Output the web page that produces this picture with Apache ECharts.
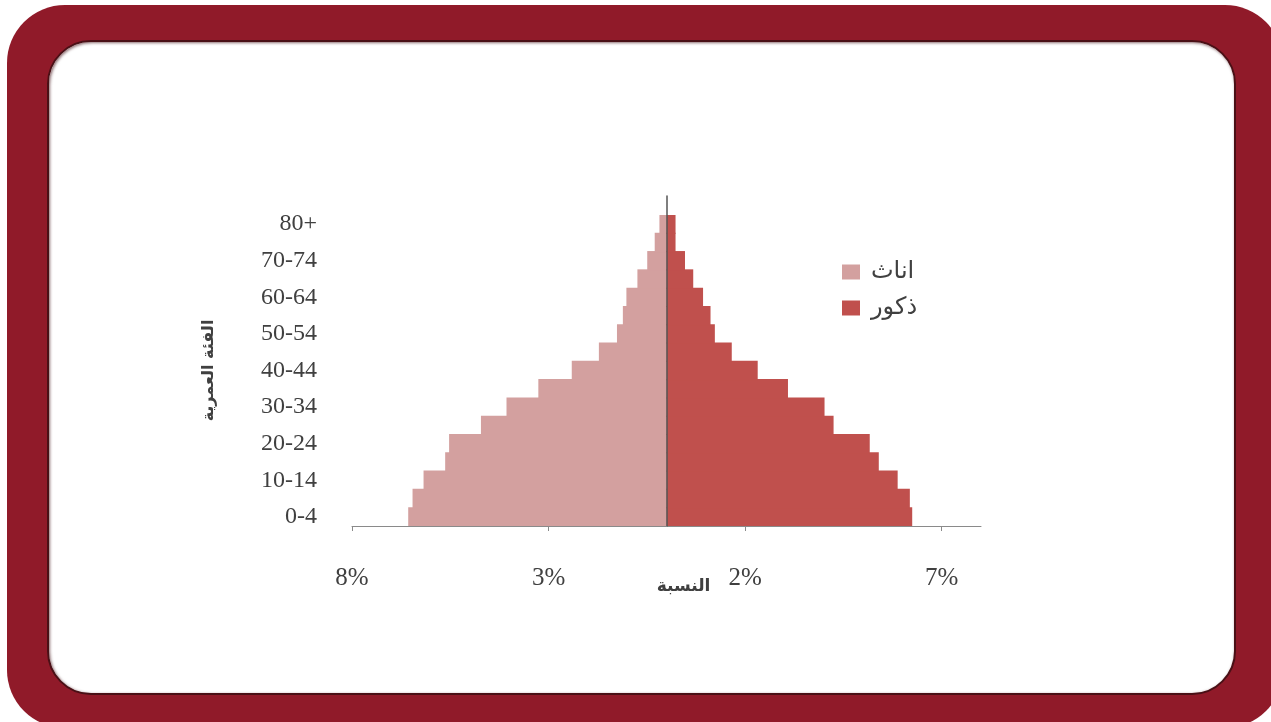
<!DOCTYPE html>
<html>
<head>
<meta charset="utf-8">
<script src="https://cdn.jsdelivr.net/npm/echarts@6/dist/echarts.min.js"></script>
<style>
    html, body { margin: 0; padding: 0; width: 1271px; height: 722px; overflow: hidden; background: #fff; }
    .frame {
        position: absolute; left: 7px; top: 5px; width: 1276px; height: 723px;
        background: #901a29; border-radius: 58px;
    }
    .panel {
        position: absolute; left: 47px; top: 40px; width: 1189px; height: 655px;
        background: #fff; border-radius: 44px; box-sizing: border-box;
        border: 2px solid #4a1016; box-shadow: inset 1px 1px 3px rgba(60, 10, 15, 0.6);
    }
    #main { position: absolute; left: 0; top: 0; width: 1271px; height: 722px; }
</style>
</head>
<body>
<div class="frame"></div>
<div class="panel"></div>
<div id="main"></div>
<script>
// الفئات العمرية (من الأصغر للأكبر)
const ageGroups = ['0-4', '5-9', '10-14', '15-19', '20-24', '25-29', '30-34', '35-39', '40-44',
    '45-49', '50-54', '55-59', '60-64', '65-69', '70-74', '75-79', '80+'];
// النسبة % - اناث (تظهر على اليسار)
const females = [6.57, 6.46, 6.18, 5.63, 5.53, 4.72, 4.07, 3.26, 2.41, 1.72, 1.26, 1.11, 1.02, 0.74, 0.49, 0.30, 0.18];
// النسبة % - ذكور (تظهر على اليمين)
const males = [6.25, 6.19, 5.88, 5.40, 5.17, 4.25, 4.02, 3.09, 2.32, 1.66, 1.23, 1.12, 0.93, 0.68, 0.47, 0.23, 0.23];
// قيم المحور الأفقي
const xTicks = [-8, -3, 2, 7];
const seriesNames = ['اناث', 'ذكور'];
const colors = ['#d3a09f', '#c0504d'];

let chart = echarts.init(document.getElementById('main'), null, { renderer: 'canvas' });

let option = {
    backgroundColor: 'transparent',
    animation: false,
    color: colors,
    legend: {
        data: seriesNames,
        orient: 'vertical',
        left: 837,
        top: 255,
        icon: 'rect',
        itemWidth: 18,
        itemHeight: 15,
        itemGap: 12,
        textStyle: { fontFamily: 'DejaVu Sans', fontSize: 24, color: '#404040', padding: [0, 0, 0, 6] }
    },
    grid: [
        { left: 352, right: 290, top: 215, bottom: 196 },
        // شبكة ثانية لخط المحور العمودي فقط
        { left: 352, right: 290, top: 196, bottom: 196 }
    ],
    xAxis: [
        {
            type: 'value',
            gridIndex: 0,
            min: -8,
            max: 8,
            name: 'النسبة',
            nameLocation: 'middle',
            nameGap: 52,
            nameMoveOverlap: false,
            nameTextStyle: { fontFamily: 'DejaVu Sans', fontSize: 17, fontWeight: 'bold', color: '#404040', padding: [0, 0, 0, 34] },
            splitLine: { show: false },
            axisLine: { show: true, lineStyle: { color: '#8a8a8a', width: 1 } },
            axisTick: { show: true, customValues: xTicks, length: 5, lineStyle: { color: '#8a8a8a' } },
            axisLabel: {
                customValues: xTicks,
                margin: 40,
                fontFamily: 'Liberation Serif',
                fontSize: 25,
                color: '#404040',
                formatter: function (v) { return Math.abs(v) + '%'; }
            }
        },
        { type: 'value', gridIndex: 1, min: -8, max: 8, show: false }
    ],
    yAxis: [
        {
            type: 'category',
            gridIndex: 0,
            data: ageGroups,
            name: 'الفئة العمرية',
            nameLocation: 'middle',
            nameRotate: 90,
            nameGap: 135,
            nameMoveOverlap: false,
            nameTextStyle: { fontFamily: 'DejaVu Sans', fontSize: 16, fontWeight: 'bold', color: '#404040' },
            axisLine: { show: false },
            axisTick: { show: false },
            axisLabel: {
                interval: 1,
                margin: 35,
                fontFamily: 'Liberation Serif',
                fontSize: 24,
                color: '#404040'
            }
        },
        {
            type: 'value',
            gridIndex: 1,
            min: 0,
            max: 1,
            z: 5,
            axisLine: { show: true, onZero: true, lineStyle: { color: '#555', width: 1.5 } },
            axisTick: { show: false },
            axisLabel: { show: false },
            splitLine: { show: false }
        }
    ],
    series: [
        {
            name: seriesNames[0],
            type: 'bar',
            stack: 'pyramid',
            barCategoryGap: '-6%',
            data: females.map(v => -v)
        },
        {
            name: seriesNames[1],
            type: 'bar',
            stack: 'pyramid',
            barCategoryGap: '-6%',
            data: males
        }
    ]
};

chart.setOption(option);
</script>
</body>
</html>
